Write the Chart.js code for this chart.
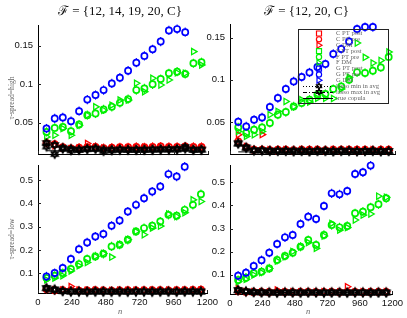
<!DOCTYPE html>
<html><head><meta charset="utf-8">
<script src="https://cdn.jsdelivr.net/npm/chart.js@4.4.1/dist/chart.umd.min.js"></script>
<style>
html,body{margin:0;padding:0;background:#fff;}
body{width:407px;height:318px;overflow:hidden;position:relative;}
canvas{position:absolute;}
</style></head>
<body>
<canvas id="tl" width="222" height="170" style="left:0;top:0"></canvas>
<canvas id="tr" width="215" height="170" style="left:192px;top:0"></canvas>
<canvas id="bl" width="222" height="168" style="left:0;top:150px"></canvas>
<canvas id="br" width="215" height="168" style="left:192px;top:150px"></canvas>
<script>
// ---------------- data ----------------
const N = [60, 118, 175, 233, 290, 348, 406, 463, 521, 578, 636, 694, 751, 809, 866, 924, 982, 1039, 1097, 1154];
const X_TICKS = [0, 240, 480, 720, 960, 1200];
const Y_TICKS_HIGH = [0.05, 0.1, 0.15];
const Y_TICKS_LOW = [0.1, 0.2, 0.3, 0.4, 0.5];
const TITLE_LEFT = "\u2131 = {12, 14, 19, 20, C}";
const TITLE_RIGHT = "\u2131 = {12, 20, C}";
const YLABEL_HIGH = "\u03c4-spread=high";
const YLABEL_LOW = "\u03c4-spread=low";
const XLABEL = "n";
const LEGEND_LABELS = ["C PT post","C PT pre","C DM","F PT post","F PT pre","F DM","G PT post","G PT pre","G DM","lasso min in avg","lasso max in avg","true copula"];

// top-left: F={12,14,19,20,C}, tau-spread=high
const HL_G_PT_pre = [0.0424,0.0555,0.0568,0.052,0.065,0.080,0.086,0.0924,0.101,0.1085,0.1176,0.128,0.1368,0.1455,0.1555,0.170,0.1717,0.1677];
const HL_F_PT_pre = [0.038,0.0432,0.0445,0.039,0.0476,0.0598,0.062,0.0672,0.0706,0.0758,0.0807,0.0924,0.0946,0.0999,0.1068,0.1142,0.1163,0.1133,0.1273,0.1286];
const HL_F_DM = [0.0315,0.0337,0.0424,0.0337,0.0467,0.0598,0.0706,0.0663,0.0728,0.0794,0.0794,0.1012,0.0902,0.1077,0.099,0.1055,0.115,0.1142,0.1424,0.125];
const HL_C_PT_pre = [0.0236,0.022,0.018,0.0165,0.0175,0.018,0.0185,0.017,0.0175,0.018,0.018,0.0185,0.018,0.0185,0.019,0.0185,0.0185,0.019,0.0185,0.0185];
const HL_C_DM = [0.025,0.02,0.017,0.016,0.017,0.023,0.018,0.017,0.016,0.017,0.017,0.017,0.018,0.017,0.018,0.017,0.017,0.018,0.017,0.017];
const HL_lasso_min = [0.0236,0.021,0.016,0.014,0.015,0.016,0.016,0.013,0.015,0.015,0.0145,0.0145,0.015,0.015,0.015,0.0155,0.015,0.0185,0.015,0.015];
const HL_lasso_max = [0.019,0.0092,0.0175,0.016,0.0145,0.0155,0.0165,0.015,0.014,0.015,0.015,0.015,0.0145,0.015,0.0155,0.015,0.016,0.016,0.0145,0.015];
const HL_true = [0.0135,0.0135,0.0135,0.0135,0.0135,0.0135,0.0135,0.0135,0.0135,0.0135,0.0135,0.0135,0.0135,0.0135,0.0135,0.0135,0.0135,0.0135,0.0135,0.0135];

// top-right: F={12,20,C}, tau-spread=high
const HR_G_PT_pre = [0.0502,0.0447,0.0526,0.0553,0.0677,0.0783,0.089,0.098,0.1032,0.1086,0.1152,0.1186,0.1305,0.1364,0.1454,0.160,0.1624,0.1624];
const HR_F_PT_pre = [0.0435,0.0368,0.0408,0.0435,0.0487,0.0585,0.0617,0.0684,0.0724,0.0763,0.0822,0.083,0.089,0.092,0.1,0.1087,0.108,0.1107,0.1146,0.127];
const HR_F_DM = [0.0388,0.0329,0.0348,0.0388,0.0585,0.0625,0.0743,0.068,0.0763,0.0735,0.078,0.078,0.0778,0.089,0.103,0.1435,0.1265,0.1198,0.1229,0.1328];
const HR_C_PT_pre = [0.027,0.02,0.017,0.017,0.0165,0.017,0.017,0.0165,0.017,0.017,0.017,0.0165,0.017,0.017,0.017,0.017,0.017,0.0165,0.017,0.017];
const HR_C_DM = [0.0348,0.021,0.017,0.035,0.017,0.016,0.017,0.016,0.017,0.016,0.017,0.016,0.017,0.016,0.017,0.016,0.016,0.017,0.016,0.016];
const HR_lasso_min = [0.025,0.02,0.0165,0.0165,0.0155,0.016,0.0155,0.016,0.0155,0.0155,0.016,0.0155,0.0155,0.016,0.0155,0.0155,0.0155,0.0155,0.0155,0.0155];
const HR_lasso_max = [0.024,0.019,0.016,0.016,0.016,0.0155,0.016,0.015,0.016,0.015,0.0155,0.016,0.015,0.0155,0.016,0.015,0.0155,0.016,0.015,0.0155];
const HR_true = [0.0145,0.0145,0.0145,0.0145,0.0145,0.0145,0.0145,0.0145,0.0145,0.0145,0.0145,0.0145,0.0145,0.0145,0.0145,0.0145,0.0145,0.0145,0.0145,0.0145];

// bottom-left: F={12,14,19,20,C}, tau-spread=low
const LL_G_PT_pre = [0.0872,0.1017,0.123,0.1615,0.204,0.2325,0.258,0.2685,0.304,0.3265,0.365,0.3935,0.422,0.4505,0.472,0.525,0.5145,0.557];
const LL_F_PT_pre = [0.080,0.090,0.1017,0.1188,0.140,0.1615,0.1727,0.184,0.2155,0.2227,0.244,0.2795,0.294,0.304,0.322,0.3508,0.3466,0.372,0.3935,0.4393];
const LL_F_DM = [0.073,0.08,0.09,0.1103,0.133,0.147,0.173,0.1855,0.17,0.2227,0.244,0.2795,0.2655,0.294,0.3025,0.354,0.344,0.3595,0.415,0.4077];
const LL_C_PT_pre = [0.033,0.028,0.028,0.027,0.026,0.027,0.028,0.027,0.026,0.027,0.028,0.027,0.028,0.028,0.028,0.027,0.028,0.028,0.029,0.03];
const LL_C_DM = [0.035,0.03,0.029,0.044,0.029,0.028,0.028,0.027,0.027,0.028,0.027,0.028,0.027,0.028,0.027,0.028,0.027,0.028,0.028,0.028];
const LL_lasso_min = [0.038,0.032,0.025,0.023,0.022,0.022,0.022,0.023,0.022,0.022,0.022,0.022,0.023,0.022,0.023,0.022,0.022,0.023,0.022,0.023];
const LL_lasso_max = [0.036,0.03,0.024,0.022,0.023,0.022,0.023,0.022,0.022,0.023,0.022,0.023,0.022,0.022,0.022,0.023,0.022,0.022,0.023,0.022];
const LL_true = [0.021,0.021,0.021,0.021,0.021,0.021,0.021,0.021,0.021,0.021,0.021,0.021,0.021,0.021,0.021,0.021,0.021,0.021,0.021,0.021];

// bottom-right: F={12,20,C}, tau-spread=low
const LR_G_PT_pre = [0.0957,0.1087,0.1375,0.163,0.195,0.2329,0.2617,0.2718,0.3195,0.3513,0.3412,0.3975,0.4523,0.448,0.4625,0.5362,0.5434,0.5723];
const LR_F_PT_pre = [0.077,0.087,0.106,0.113,0.127,0.164,0.181,0.195,0.221,0.25,0.229,0.272,0.315,0.305,0.311,0.366,0.373,0.392,0.405,0.431];
const LR_F_DM = [0.07,0.08,0.099,0.109,0.127,0.159,0.178,0.2,0.221,0.239,0.214,0.268,0.322,0.293,0.304,0.337,0.358,0.363,0.44,0.435];
const LR_C_PT_pre = [0.03,0.026,0.025,0.025,0.024,0.025,0.025,0.024,0.025,0.025,0.024,0.025,0.025,0.024,0.025,0.025,0.024,0.025,0.025,0.025];
const LR_C_DM = [0.04,0.027,0.026,0.025,0.025,0.034,0.025,0.026,0.025,0.025,0.025,0.026,0.025,0.025,0.048,0.025,0.026,0.025,0.025,0.026];
const LR_lasso_min = [0.034,0.028,0.025,0.024,0.023,0.023,0.023,0.023,0.023,0.023,0.023,0.023,0.023,0.023,0.023,0.023,0.023,0.023,0.023,0.023];
const LR_lasso_max = [0.032,0.027,0.024,0.023,0.023,0.022,0.023,0.023,0.022,0.023,0.023,0.022,0.023,0.023,0.022,0.023,0.023,0.022,0.023,0.023];
const LR_true = [0.022,0.022,0.022,0.022,0.022,0.022,0.022,0.022,0.022,0.022,0.022,0.022,0.022,0.022,0.022,0.022,0.022,0.022,0.022,0.022];

// ---------------- styling ----------------
const RED = '#ff0000', GREEN = '#00f000', BLUE = '#0000ff', BLACK = '#000000';
const SANS = '"Liberation Sans", Arial, sans-serif';
const SERIF = '"Liberation Serif", "DejaVu Serif", serif';

function hexagram(r, lw) {
  const s = Math.ceil(2 * r + lw + 2);
  const c = document.createElement('canvas');
  c.width = c.height = s;
  const g = c.getContext('2d');
  g.strokeStyle = '#000'; g.lineWidth = lw; g.lineJoin = 'miter';
  const cx = s / 2, cy = s / 2;
  [-Math.PI / 2, Math.PI / 2].forEach(off => {
    g.beginPath();
    for (let i = 0; i < 3; i++) {
      const a = off + i * 2 * Math.PI / 3;
      const x = cx + r * Math.cos(a), y = cy + r * Math.sin(a);
      if (i) g.lineTo(x, y); else g.moveTo(x, y);
    }
    g.closePath(); g.stroke();
  });
  return c;
}
const HEX = hexagram(4, 1.5);
const HEX_SMALL = hexagram(3, 1.2);

function pts(vals) { return vals.map((v, i) => ({ x: N[i], y: v })); }

function markerSet(label, vals, color, style, order, extra) {
  return Object.assign({
    label, data: pts(vals), showLine: false, borderColor: color, backgroundColor: 'rgba(0,0,0,0)',
    pointStyle: style, pointRadius: 3.1, pointBorderWidth: 1.7, pointBorderColor: color,
    pointBackgroundColor: 'rgba(0,0,0,0)', order, clip: false
  }, extra || {});
}

function buildDatasets(d) {
  return [
    markerSet('C PT post', [], RED, 'rect', 9),
    markerSet('C PT pre', d.cPre, RED, 'circle', 7, { errBar: true }),
    markerSet('C DM', d.cDM, RED, 'triangle', 8, { pointRotation: 90, pointRadius: 3.6, pointBorderWidth: 1.3 }),
    markerSet('F PT post', [], GREEN, 'rect', 9),
    markerSet('F PT pre', d.fPre, GREEN, 'circle', 5, { errBar: true }),
    markerSet('F DM', d.fDM, GREEN, 'triangle', 6, { pointRotation: 90, pointRadius: 3.6, pointBorderWidth: 1.3 }),
    markerSet('G PT post', [], BLUE, 'rect', 9),
    markerSet('G PT pre', d.gPre, BLUE, 'circle', 4, { errBar: true }),
    markerSet('G DM', [], BLUE, 'triangle', 9, { pointRotation: 90 }),
    { label: 'lasso min in avg', data: pts(d.lMin), showLine: true, borderColor: BLACK, borderWidth: 1,
      borderDash: [1, 2], pointStyle: HEX, pointRadius: 4, order: 1, clip: false, fill: false },
    { label: 'lasso max in avg', data: pts(d.lMax), showLine: true, borderColor: BLACK, borderWidth: 1,
      borderDash: [4, 2, 1, 2], pointStyle: HEX, pointRadius: 4, order: 2, clip: false, fill: false },
    { label: 'true copula', data: pts(d.tru), showLine: true, borderColor: BLACK, borderWidth: 1,
      pointRadius: 0, order: 3, clip: false, fill: false }
  ];
}

// ---------------- plugins ----------------
const errorBars = {
  id: 'errorBars',
  afterDatasetDraw(chart, args) {
    const ds = chart.data.datasets[args.index];
    if (!ds.errBar) return;
    const ctx = chart.ctx;
    ctx.save();
    ctx.strokeStyle = ds.borderColor; ctx.lineWidth = 1.1;
    args.meta.data.forEach(p => {
      ctx.beginPath(); ctx.moveTo(p.x, p.y - 4.6); ctx.lineTo(p.x, p.y - 3); ctx.stroke();
      ctx.beginPath(); ctx.moveTo(p.x, p.y + 3); ctx.lineTo(p.x, p.y + 4.6); ctx.stroke();
    });
    ctx.restore();
  }
};

const inwardTicks = {
  id: 'inwardTicks',
  afterDraw(chart) {
    const { ctx, chartArea: a, scales } = chart;
    ctx.save(); ctx.strokeStyle = '#222'; ctx.lineWidth = 1;
    scales.y.ticks.forEach(t => {
      const y = Math.round(scales.y.getPixelForValue(t.value)) + 0.5;
      ctx.beginPath(); ctx.moveTo(a.left, y); ctx.lineTo(a.left + 3, y); ctx.stroke();
    });
    scales.x.ticks.forEach(t => {
      const x = Math.round(scales.x.getPixelForValue(t.value)) + 0.5;
      ctx.beginPath(); ctx.moveTo(x, a.bottom); ctx.lineTo(x, a.bottom - 3); ctx.stroke();
    });
    ctx.restore();
  }
};

const texts = {
  id: 'texts',
  afterDraw(chart, args, opts) {
    const ctx = chart.ctx;
    (opts.items || []).forEach(it => {
      ctx.save();
      ctx.font = it.font; ctx.fillStyle = it.color;
      ctx.textAlign = 'center'; ctx.textBaseline = 'middle';
      ctx.translate(it.x, it.y);
      if (it.rot) ctx.rotate(it.rot);
      ctx.fillText(it.text, 0, 0);
      ctx.restore();
    });
  }
};

function drawLegendMarker(ctx, kind, color, x, y) {
  ctx.save(); ctx.strokeStyle = color; ctx.lineWidth = 1.2; ctx.beginPath();
  if (kind === 'rect') ctx.rect(x - 2.5, y - 2.5, 5, 5);
  else if (kind === 'circle') ctx.arc(x, y, 2.6, 0, Math.PI * 2);
  else if (kind === 'triangle') { ctx.moveTo(x + 3, y); ctx.lineTo(x - 2, y - 3); ctx.lineTo(x - 2, y + 3); ctx.closePath(); }
  ctx.stroke(); ctx.restore();
}

const boxLegend = {
  id: 'boxLegend',
  afterDraw(chart, args, opts) {
    if (!opts.show) return;
    const ctx = chart.ctx;
    const { left, top, right, bottom, markerX, textX, lineL, lineR, rowY0, rowStep } = opts;
    ctx.save();
    ctx.strokeStyle = '#222'; ctx.lineWidth = 1;
    ctx.strokeRect(left + 0.5, top + 0.5, right - left, bottom - top);
    ctx.font = '6.6px ' + SERIF; ctx.fillStyle = '#666'; ctx.textBaseline = 'middle'; ctx.textAlign = 'left';
    chart.data.datasets.forEach((ds, i) => {
      const y = rowY0 + i * rowStep;
      if (ds.showLine) {
        ctx.save(); ctx.strokeStyle = '#000'; ctx.lineWidth = 1; ctx.setLineDash(ds.borderDash || []);
        ctx.beginPath(); ctx.moveTo(lineL, Math.round(y) + 0.5); ctx.lineTo(lineR, Math.round(y) + 0.5); ctx.stroke();
        ctx.restore();
        if (ds.pointRadius > 0) ctx.drawImage(HEX_SMALL, markerX - HEX_SMALL.width / 2, y - HEX_SMALL.height / 2);
      } else {
        drawLegendMarker(ctx, ds.pointStyle, ds.borderColor, markerX, y);
      }
      ctx.fillText(LEGEND_LABELS[i], textX, y);
    });
    ctx.restore();
  }
};

// ---------------- charts ----------------
function makeChart(id, d, cfg) {
  return new Chart(document.getElementById(id), {
    type: 'line',
    data: { datasets: buildDatasets(d) },
    plugins: [errorBars, inwardTicks, texts, boxLegend],
    options: {
      responsive: false, animation: false, devicePixelRatio: 1,
      layout: { padding: cfg.padding, autoPadding: false },
      plugins: { legend: { display: false }, tooltip: { enabled: false },
        texts: { items: cfg.texts }, boxLegend: cfg.legend || { show: false } },
      scales: {
        x: {
          type: 'linear', min: 0, max: 1200,
          afterBuildTicks: s => { s.ticks = X_TICKS.map(v => ({ value: v })); },
          afterFit: s => { s.height = cfg.xHeight; },
          grid: { display: false, drawTicks: false },
          border: { display: true, color: '#000', width: 1 },
          ticks: { display: cfg.xLabels, padding: 4, color: '#111', font: { family: SANS, size: 9.5 },
            maxRotation: 0, autoSkip: false, callback: v => String(v) }
        },
        y: {
          type: 'linear', min: cfg.yMin, max: cfg.yMax,
          afterBuildTicks: s => { s.ticks = cfg.yTicks.map(v => ({ value: v })); },
          afterFit: s => { s.width = 38; },
          grid: { display: false, drawTicks: false },
          border: { display: true, color: '#000', width: 1 },
          ticks: { padding: 5, color: '#111', font: { family: SANS, size: 9.5 }, autoSkip: false,
            callback: v => String(v) }
        }
      }
    }
  });
}

const TITLE_FONT = '13px ' + SERIF;
const YLAB_FONT = '7.6px ' + SERIF;
const NLAB_FONT = 'italic 8.5px ' + SERIF;

makeChart('tl', { gPre: HL_G_PT_pre, fPre: HL_F_PT_pre, fDM: HL_F_DM, cPre: HL_C_PT_pre, cDM: HL_C_DM,
  lMin: HL_lasso_min, lMax: HL_lasso_max, tru: HL_true }, {
  padding: { left: 0, top: 25, right: 14, bottom: 16 }, xHeight: 0, xLabels: false,
  yMin: 0.0093, yMax: 0.177, yTicks: Y_TICKS_HIGH,
  texts: [
    { text: TITLE_LEFT, x: 120, y: 12, font: TITLE_FONT, color: '#111' },
    { text: YLABEL_HIGH, x: 12, y: 98, rot: -Math.PI / 2, font: YLAB_FONT, color: '#666' }
  ]
});

makeChart('tr', { gPre: HR_G_PT_pre, fPre: HR_F_PT_pre, fDM: HR_F_DM, cPre: HR_C_PT_pre, cDM: HR_C_DM,
  lMin: HR_lasso_min, lMax: HR_lasso_max, tru: HR_true }, {
  padding: { left: 0, top: 24, right: 12, bottom: 16 }, xHeight: 0, xLabels: false,
  yMin: 0.012, yMax: 0.166, yTicks: Y_TICKS_HIGH,
  texts: [
    { text: TITLE_RIGHT, x: 114.5, y: 12, font: TITLE_FONT, color: '#111' }
  ],
  legend: { show: true, left: 106, top: 29, right: 196, bottom: 103, markerX: 127, textX: 144,
    lineL: 111, lineR: 141, rowY0: 33.5, rowStep: 5.85 }
});

makeChart('bl', { gPre: LL_G_PT_pre, fPre: LL_F_PT_pre, fDM: LL_F_DM, cPre: LL_C_PT_pre, cDM: LL_C_DM,
  lMin: LL_lasso_min, lMax: LL_lasso_max, tru: LL_true }, {
  padding: { left: 0, top: 15, right: 14, bottom: 0 }, xHeight: 25, xLabels: true,
  yMin: 0.0163, yMax: 0.564, yTicks: Y_TICKS_LOW,
  texts: [
    { text: YLABEL_LOW, x: 12, y: 89, rot: -Math.PI / 2, font: YLAB_FONT, color: '#666' },
    { text: XLABEL, x: 120, y: 162, font: NLAB_FONT, color: '#666' }
  ]
});

makeChart('br', { gPre: LR_G_PT_pre, fPre: LR_F_PT_pre, fDM: LR_F_DM, cPre: LR_C_PT_pre, cDM: LR_C_DM,
  lMin: LR_lasso_min, lMax: LR_lasso_max, tru: LR_true }, {
  padding: { left: 0, top: 15, right: 12, bottom: 0 }, xHeight: 24, xLabels: true,
  yMin: 0.0164, yMax: 0.575, yTicks: Y_TICKS_LOW,
  texts: [
    { text: XLABEL, x: 116, y: 162, font: NLAB_FONT, color: '#666' }
  ]
});
</script>
</body></html>
